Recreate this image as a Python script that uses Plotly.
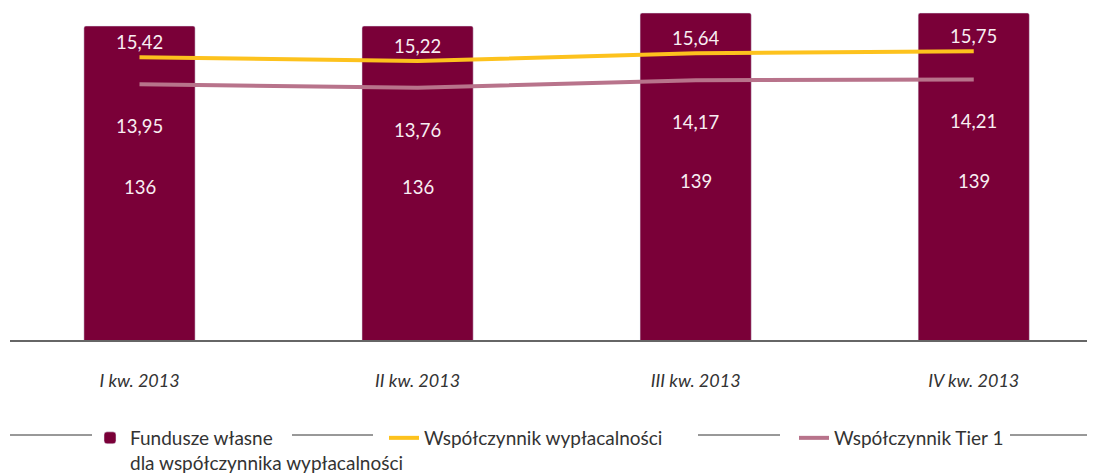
import plotly.graph_objects as go

# dane
kwartaly = ["I kw. 2013", "II kw. 2013", "III kw. 2013", "IV kw. 2013"]
fundusze = [136, 136, 139, 139]
wyplacalnosc = [15.42, 15.22, 15.64, 15.75]
tier1 = [13.95, 13.76, 14.17, 14.21]

BORDO = "#7a0038"
ZOLTY = "#fdc21d"
ROZ = "#b8738b"
BIALY = "#f8eef2"
FONT = "Lato"
Y_MIN, Y_MAX = 63.54, 139.69

# strona ma 8px marginesu body, więc figura jest mniejsza o te 8px
W, H = 1087, 466
L, T, B = 2, 2, 134
PW = W - L
PH = H - T - B


def pl(v):
    # polski zapis liczby z przecinkiem
    return f"{v:.2f}".replace(".", ",")


fig = go.Figure()

fig.add_trace(go.Bar(
    x=kwartaly, y=fundusze,
    name="Fundusze własne<br>dla współczynnika wypłacalności",
    marker=dict(color=BORDO, cornerradius=2),
    width=0.4,
    legend="legend",
))

fig.add_trace(go.Scatter(
    x=kwartaly, y=wyplacalnosc, yaxis="y2", mode="lines",
    name="Współczynnik wypłacalności",
    line=dict(color=ZOLTY, width=4),
    legend="legend2",
))

fig.add_trace(go.Scatter(
    x=kwartaly, y=tier1, yaxis="y2", mode="lines",
    name="Współczynnik Tier 1",
    line=dict(color=ROZ, width=4),
    legend="legend3",
))

lab_font = dict(color=BIALY, size=18.5, family=FONT)
ann = []
# wartości słupków - w połowie widocznej części słupka
for k, v in zip(kwartaly, fundusze):
    ann.append(dict(x=k, y=(v + Y_MIN) / 2, yref="y", text=str(v), showarrow=False,
                    yshift=-4, font=lab_font))
for k, v in zip(kwartaly, wyplacalnosc):
    ann.append(dict(x=k, y=v, yref="y2", text=pl(v), showarrow=False, yshift=15,
                    font=lab_font))
for k, v in zip(kwartaly, tier1):
    ann.append(dict(x=k, y=v, yref="y2", text=pl(v), showarrow=False, yshift=-42,
                    font=lab_font))

# szare odcinki w legendzie (współrzędne ekranu)
shapes = []
for x0, x1 in [(10, 92), (292, 373), (698, 780), (1010, 1095)]:
    shapes.append(dict(type="line", xref="paper", yref="paper",
                       x0=(x0 - 10) / PW, x1=(x1 - 10) / PW,
                       y0=-95 / PH, y1=-95 / PH,
                       line=dict(color="#333333", width=1)))

leg = dict(orientation="h", xanchor="left", yanchor="top",
           yref="container", y=1 - 411 / H,
           bgcolor="rgba(0,0,0,0)", valign="top",
           font=dict(size=19, family=FONT, color="#333333"))

fig.update_layout(
    width=W, height=H,
    margin=dict(l=L, r=0, t=T, b=B, autoexpand=False),
    paper_bgcolor="white", plot_bgcolor="white",
    font=dict(family=FONT),
    showlegend=True,
    xaxis=dict(range=[-0.4657, 3.436], showgrid=False, ticks="",
               showline=True, linecolor="#666666", linewidth=2,
               tickfont=dict(size=18, family=FONT, color="#333333", style="italic"),
               ticklabelstandoff=23),
    yaxis=dict(range=[Y_MIN, Y_MAX], visible=False, showgrid=False),
    yaxis2=dict(range=[0, 18], overlaying="y", visible=False, showgrid=False),
    legend=dict(leg, x=(90 - 10) / PW),
    legend2=dict(leg, x=(384 - 10) / PW),
    legend3=dict(leg, x=(794 - 10) / PW),
    annotations=ann,
    shapes=shapes,
)

fig.write_html("out.html")
